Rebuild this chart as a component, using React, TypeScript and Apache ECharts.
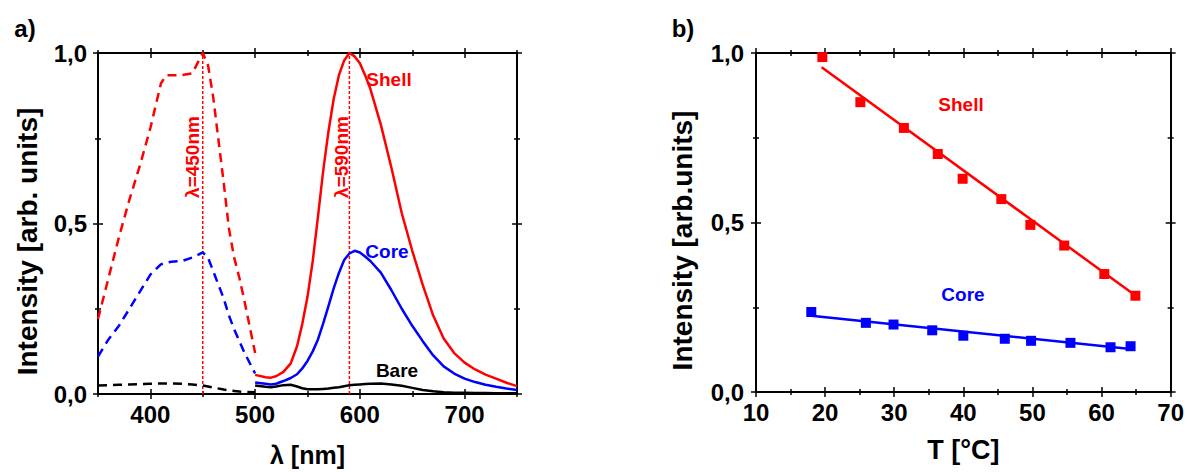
import React, { useEffect, useRef } from 'react';
import * as echarts from 'echarts';

// ---- Panel a) : excitation (dashed) ----
const excWl = [350, 360, 370, 380, 390, 400, 410, 415, 420, 430, 440, 450, 455, 460, 470, 475, 480, 485, 490, 500];
const shellExc = [0.22, 0.34, 0.46, 0.57, 0.67, 0.78, 0.91, 0.935, 0.935, 0.935, 0.94, 1.0, 0.965, 0.87, 0.62, 0.485, 0.4, 0.34, 0.27, 0.12];
const coreExc = [0.11, 0.16, 0.2, 0.25, 0.3, 0.35, 0.38, 0.385, 0.388, 0.39, 0.4, 0.415, 0.4, 0.36, 0.28, 0.23, 0.19, 0.155, 0.12, 0.06];
const bareExc = [0.025, 0.026, 0.027, 0.028, 0.029, 0.03, 0.031, 0.031, 0.031, 0.03, 0.028, 0.025, 0.022, 0.019, 0.013, 0.011, 0.009, 0.007, 0.006, 0.005];

// ---- Panel a) : emission (solid) ----
const emWl = [500, 510, 515, 520, 527, 534, 540, 545, 550, 555, 560, 565, 570, 575, 580, 585, 590, 595, 600, 605, 610, 620, 630, 640, 650, 660, 670, 680, 690, 700, 710, 720, 730, 740, 750];
const shellEm = [0.056, 0.049, 0.048, 0.052, 0.065, 0.09, 0.14, 0.205, 0.285, 0.39, 0.52, 0.655, 0.77, 0.865, 0.935, 0.978, 1.0, 0.99, 0.97, 0.935, 0.895, 0.79, 0.665, 0.53, 0.42, 0.32, 0.23, 0.163, 0.12, 0.092, 0.072, 0.057, 0.045, 0.033, 0.023];
const coreEm = [0.034, 0.03, 0.028, 0.03, 0.038, 0.047, 0.058, 0.075, 0.097, 0.125, 0.16, 0.207, 0.258, 0.31, 0.355, 0.393, 0.412, 0.42, 0.415, 0.403, 0.39, 0.356, 0.305, 0.25, 0.2, 0.155, 0.113, 0.081, 0.06, 0.045, 0.035, 0.027, 0.021, 0.016, 0.012];
const bareEm = [0.025, 0.021, 0.02, 0.022, 0.026, 0.027, 0.022, 0.017, 0.014, 0.014, 0.014, 0.015, 0.016, 0.018, 0.02, 0.023, 0.026, 0.027, 0.028, 0.029, 0.03, 0.031, 0.028, 0.024, 0.018, 0.012, 0.008, 0.005, 0.004, 0.004, 0.003, 0.003, 0.002, 0.002, 0.002];

const peakLines = [450, 590];
const peakLabels = ['λ=450nm', 'λ=590nm'];

const aXMajor = [400, 500, 600, 700];
const aXMinor = [350, 450, 550, 650, 750];
const yMajor = [0, 0.5, 1.0];
const yMinor = [0.25, 0.75];

// ---- Panel b) : temperature dependence ----
const shellT = [19.6, 25.1, 31.4, 36.3, 39.9, 45.5, 49.7, 54.6, 60.4, 64.9];
const shellI = [0.988, 0.855, 0.779, 0.702, 0.629, 0.569, 0.493, 0.432, 0.348, 0.284];
const coreT = [18.0, 25.9, 29.9, 35.5, 40.0, 46.0, 49.8, 55.5, 61.3, 64.2];
const coreI = [0.236, 0.204, 0.199, 0.182, 0.166, 0.157, 0.151, 0.145, 0.132, 0.135];
const shellFitT = [19.5, 65];
const shellFitI = [0.958, 0.283];
const coreFitT = [18.0, 64.2];
const coreFitI = [0.225, 0.127];

const bXMajor = [10, 20, 30, 40, 50, 60, 70];
const bXMinor = [15, 25, 35, 45, 55, 65];

const FONT = '"Liberation Sans", Arial, Helvetica, sans-serif';
const RED = '#ff0000';
const BLUE = '#0000ff';

const zip = (xs: number[], ys: number[]) => xs.map((x, i) => [x, ys[i]]);

function sideAxes(grid: number, position: string, min: number, max: number, majors: number[], minors: number[], main: any = {}) {
  const base: any = {
    type: 'value', gridIndex: grid, min, max, position,
    splitLine: { show: false },
    axisLabel: { show: false },
    axisLine: { show: false, onZero: false },
  };
  const tick = (vals: number[], inside: boolean, len: number) => ({
    ...base,
    axisTick: { show: true, inside, length: len, customValues: vals, lineStyle: { color: '#000', width: 1.5 } },
  });
  const list: any[] = [tick(majors, false, 5), tick(majors, true, 5), tick(minors, false, 3), tick(minors, true, 3)];
  list[0] = {
    ...list[0],
    axisLine: { show: true, onZero: false, lineStyle: { color: '#000', width: 2 } },
    ...main,
  };
  return list;
}

const labelStyle = (vals: number[], fmt: (v: number) => string, margin: number) => ({
  show: true,
  customValues: vals,
  formatter: (v: number) => fmt(v),
  fontFamily: FONT,
  fontWeight: 'bold',
  fontSize: 24,
  color: '#000',
  margin,
});

const commaFmt = (v: number) => v.toFixed(1).replace('.', ',');

export default function App() {
  const ref = useRef<HTMLDivElement>(null);
  useEffect(() => {
    if (!ref.current) return;
    const chart = echarts.init(ref.current, undefined, { renderer: 'svg' });

    const xAxis = [
      ...sideAxes(0, 'bottom', 350, 750, aXMajor, aXMinor, {
        axisLabel: labelStyle(aXMajor, (v) => String(v), 8),
        name: 'λ [nm]', nameLocation: 'middle', nameGap: 48,
        nameTextStyle: { fontFamily: FONT, fontWeight: 'bold', fontSize: 25, color: '#000' },
      }),
      ...sideAxes(0, 'top', 350, 750, aXMajor, aXMinor),
      ...sideAxes(1, 'bottom', 10, 70, bXMajor, bXMinor, {
        axisLabel: labelStyle(bXMajor, (v) => String(v), 8),
        name: 'T [°C]', nameLocation: 'middle', nameGap: 44,
        nameTextStyle: { fontFamily: FONT, fontWeight: 'bold', fontSize: 27, color: '#000' },
      }),
      ...sideAxes(1, 'top', 10, 70, bXMajor, bXMinor),
    ];
    const yAxis = [
      ...sideAxes(0, 'left', 0, 1, yMajor, yMinor, {
        axisLabel: labelStyle(yMajor, commaFmt, 11),
        name: 'Intensity [arb. units]', nameLocation: 'middle', nameGap: 57,
        nameTextStyle: { fontFamily: FONT, fontWeight: 'bold', fontSize: 28, color: '#000', padding: [0, 36, 0, 0] },
      }),
      ...sideAxes(0, 'right', 0, 1, yMajor, yMinor),
      ...sideAxes(1, 'left', 0, 1, yMajor, yMinor, {
        axisLabel: labelStyle(yMajor, commaFmt, 12),
        name: 'Intensity [arb.units]', nameLocation: 'middle', nameGap: 60,
        nameTextStyle: { fontFamily: FONT, fontWeight: 'bold', fontSize: 28, color: '#000', padding: [0, 36, 0, 0] },
      }),
      ...sideAxes(1, 'right', 0, 1, yMajor, yMinor),
    ];

    const lineS = (data: number[][], color: string, dashed: boolean, xi: number, yi: number) => ({
      type: 'line', xAxisIndex: xi, yAxisIndex: yi, data, showSymbol: false, symbol: 'none',
      lineStyle: { color, width: 2.5, type: dashed ? [9, 6] : 'solid', join: 'round' },
      z: 3,
    });

    const series: any[] = [
      lineS(zip(excWl, shellExc), RED, true, 0, 0),
      lineS(zip(excWl, coreExc), BLUE, true, 0, 0),
      lineS(zip(excWl, bareExc), '#000', true, 0, 0),
      lineS(zip(emWl, shellEm), RED, false, 0, 0),
      lineS(zip(emWl, coreEm), BLUE, false, 0, 0),
      lineS(zip(emWl, bareEm), '#000', false, 0, 0),
      ...peakLines.map((w) => ({
        type: 'line', xAxisIndex: 0, yAxisIndex: 0, data: [[w, 0], [w, 1]], symbol: 'none',
        lineStyle: { color: RED, width: 1.5, type: [3, 2] }, z: 2,
      })),
      lineS(zip(shellFitT, shellFitI), RED, false, 8, 8),
      lineS(zip(coreFitT, coreFitI), BLUE, false, 8, 8),
      {
        type: 'scatter', xAxisIndex: 8, yAxisIndex: 8, data: zip(shellT, shellI),
        symbol: 'rect', symbolSize: 10, itemStyle: { color: RED, opacity: 1 }, z: 4,
      },
      {
        type: 'scatter', xAxisIndex: 8, yAxisIndex: 8, data: zip(coreT, coreI),
        symbol: 'rect', symbolSize: 10, itemStyle: { color: BLUE, opacity: 1 }, z: 4,
      },
    ];

    const txt = (text: string, x: number, y: number, color: string, size: number, rot = 0) => ({
      type: 'text', x, y, rotation: rot, z: 10,
      style: { text, fill: color, font: `bold ${size}px ${FONT}`, align: 'center', verticalAlign: 'middle' },
    });

    chart.setOption({
      animation: false,
      backgroundColor: '#fff',
      grid: [
        { left: 98, top: 53, right: 670, bottom: 76, containLabel: false },
        { left: 756, top: 53, right: 15, bottom: 80, containLabel: false },
      ],
      xAxis,
      yAxis,
      series,
      graphic: [
        txt('a)', 25, 28, '#000', 24),
        txt('b)', 683, 28, '#000', 24),
        txt(peakLabels[0], 192, 157, RED, 19, Math.PI / 2),
        txt(peakLabels[1], 341, 157, RED, 19, Math.PI / 2),
        txt('Shell', 389, 79, RED, 19),
        txt('Core', 387, 251, BLUE, 19),
        txt('Bare', 397, 370, '#000', 19),
        txt('Shell', 961, 104, RED, 19),
        txt('Core', 963, 294, BLUE, 19),
      ],
    });
    return () => chart.dispose();
  }, []);
  return <div ref={ref} style={{ position: 'fixed', left: 0, top: 0, width: 1187, height: 472, background: '#fff' }} />;
}
